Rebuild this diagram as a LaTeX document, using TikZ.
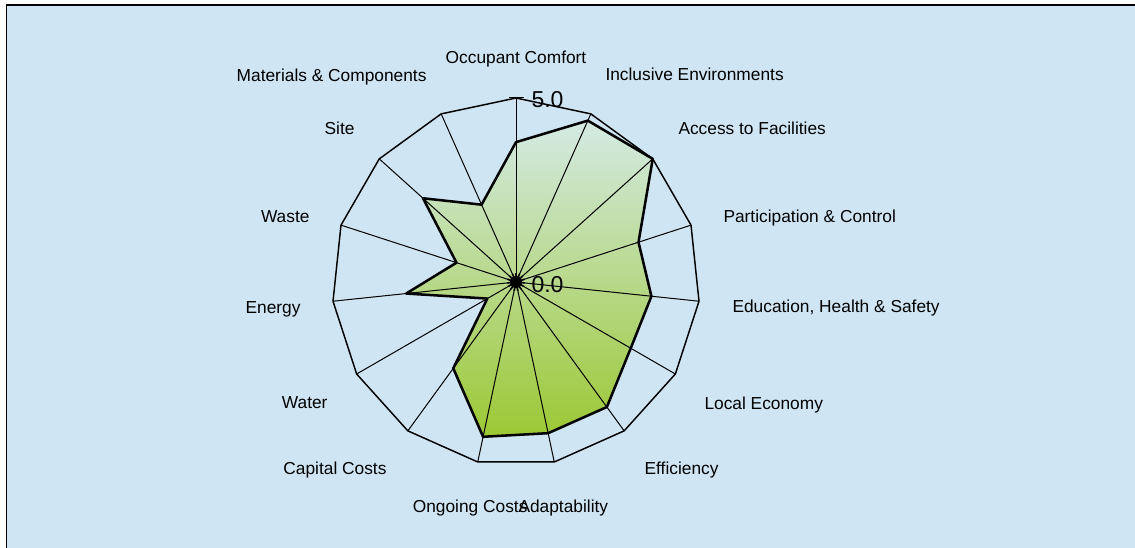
\documentclass[tikz,border=0pt]{standalone}
\usepackage{fontspec}
\setmainfont{Liberation Sans}
\usetikzlibrary{calc}

\definecolor{chartbg}{RGB}{207,229,243}
\definecolor{filltop}{RGB}{212,234,228}
\definecolor{fillbot}{RGB}{156,200,52}

\tikzset{every picture/.style={line width=0.75pt}}
\tikzset{
  catlabel/.style={inner sep=0pt, font=\fontsize{13}{16}\selectfont},
  ticklabel/.style={inner sep=0pt, font=\fontsize{17.25}{20}\selectfont},
  spoke/.style={line width=0.75pt},
  outerweb/.style={line width=1.1pt},
  scoreline/.style={line width=1.9pt, line join=round}
}

\begin{document}
\begin{tikzpicture}[x=0.75pt,y=0.75pt,yscale=-1,xscale=1]
	\useasboundingbox (0,0) rectangle (1135,548);

	%Shape: Rectangle (chart area)
	\fill [chartbg] (6.5,5) rectangle (1135,548);
	\draw [outerweb] (6.5,548) -- (6.5,5) -- (1135,5);

	% centre and axis ends
	\coordinate (c) at (516,282);
	\foreach \i in {0,...,14} {
		\coordinate (o\i) at ($(c)+(-90+24*\i:184)$);
	}
	% scores, 36.8 per unit
	\foreach \v [count=\n from 0] in {3.8,4.8,5.0,3.5,3.7,3.6,4.2,4.2,4.3,2.9,0.9,3.0,1.7,3.4,2.3} {
		\coordinate (d\n) at ($(c)+(-90+24*\n:36.8*\v)$);
	}

	%Shape: Polygon (scores, fill)
	\shade [top color=filltop, bottom color=fillbot] (d0) -- (d1) -- (d2) -- (d3) -- (d4) -- (d5) -- (d6) -- (d7) -- (d8) -- (d9) -- (d10) -- (d11) -- (d12) -- (d13) -- (d14) -- cycle;

	%Straight Lines (spokes)
	\foreach \i in {0,...,14} {
		\draw [spoke] (c) -- (o\i);
	}

	%Shape: Polygon (outer web)
	\draw [outerweb] (o0) -- (o1) -- (o2) -- (o3) -- (o4) -- (o5) -- (o6) -- (o7) -- (o8) -- (o9) -- (o10) -- (o11) -- (o12) -- (o13) -- (o14) -- cycle;

	%Shape: Polygon (scores, outline)
	\draw [scoreline] (d0) -- (d1) -- (d2) -- (d3) -- (d4) -- (d5) -- (d6) -- (d7) -- (d8) -- (d9) -- (d10) -- (d11) -- (d12) -- (d13) -- (d14) -- cycle;

	% value axis ticks
	\draw [spoke] ($(o0)+(-7,0)$) -- ($(o0)+(8,0)$);
	\fill (c) circle (6);
	\foreach \i in {0,...,14} {
		\draw [line width=1.2pt] (c) -- ($(c)+(-90+24*\i:9)$);
	}

	% Text Node
	\node [ticklabel, anchor=mid west] (top) at (531,104) {5.0};
	% Text Node
	\node [ticklabel, anchor=mid west] (zero) at (531,289) {0.0};

	% Text Node
	\node [catlabel, anchor=mid] (l0) at (516,60) {Occupant Comfort};
	% Text Node
	\node [catlabel, anchor=mid west] (l1) at (605,77) {Inclusive Environments};
	% Text Node
	\node [catlabel, anchor=mid west] (l2) at (678,131) {Access to Facilities};
	% Text Node
	\node [catlabel, anchor=mid west] (l3) at (723,219) {Participation \& Control};
	% Text Node
	\node [catlabel, anchor=mid west] (l4) at (732,309) {Education, Health \& Safety};
	% Text Node
	\node [catlabel, anchor=mid west] (l5) at (704,406) {Local Economy};
	% Text Node
	\node [catlabel, anchor=mid east] (l6) at (719,471) {Efficiency};
	% Text Node
	\node [catlabel, anchor=mid west] (l7) at (518,509) {Adaptability};
	% Text Node
	\node [catlabel, anchor=mid east] (l8) at (528,509) {Ongoing Costs};
	% Text Node
	\node [catlabel, anchor=mid east] (l9) at (387,471) {Capital Costs};
	% Text Node
	\node [catlabel, anchor=mid east] (l10) at (328,405) {Water};
	% Text Node
	\node [catlabel, anchor=mid east] (l11) at (301,310) {Energy};
	% Text Node
	\node [catlabel, anchor=mid east] (l12) at (310,219) {Waste};
	% Text Node
	\node [catlabel, anchor=mid east] (l13) at (355,131) {Site};
	% Text Node
	\node [catlabel, anchor=mid east] (l14) at (427,78) {Materials \& Components};

\end{tikzpicture}
\end{document}
